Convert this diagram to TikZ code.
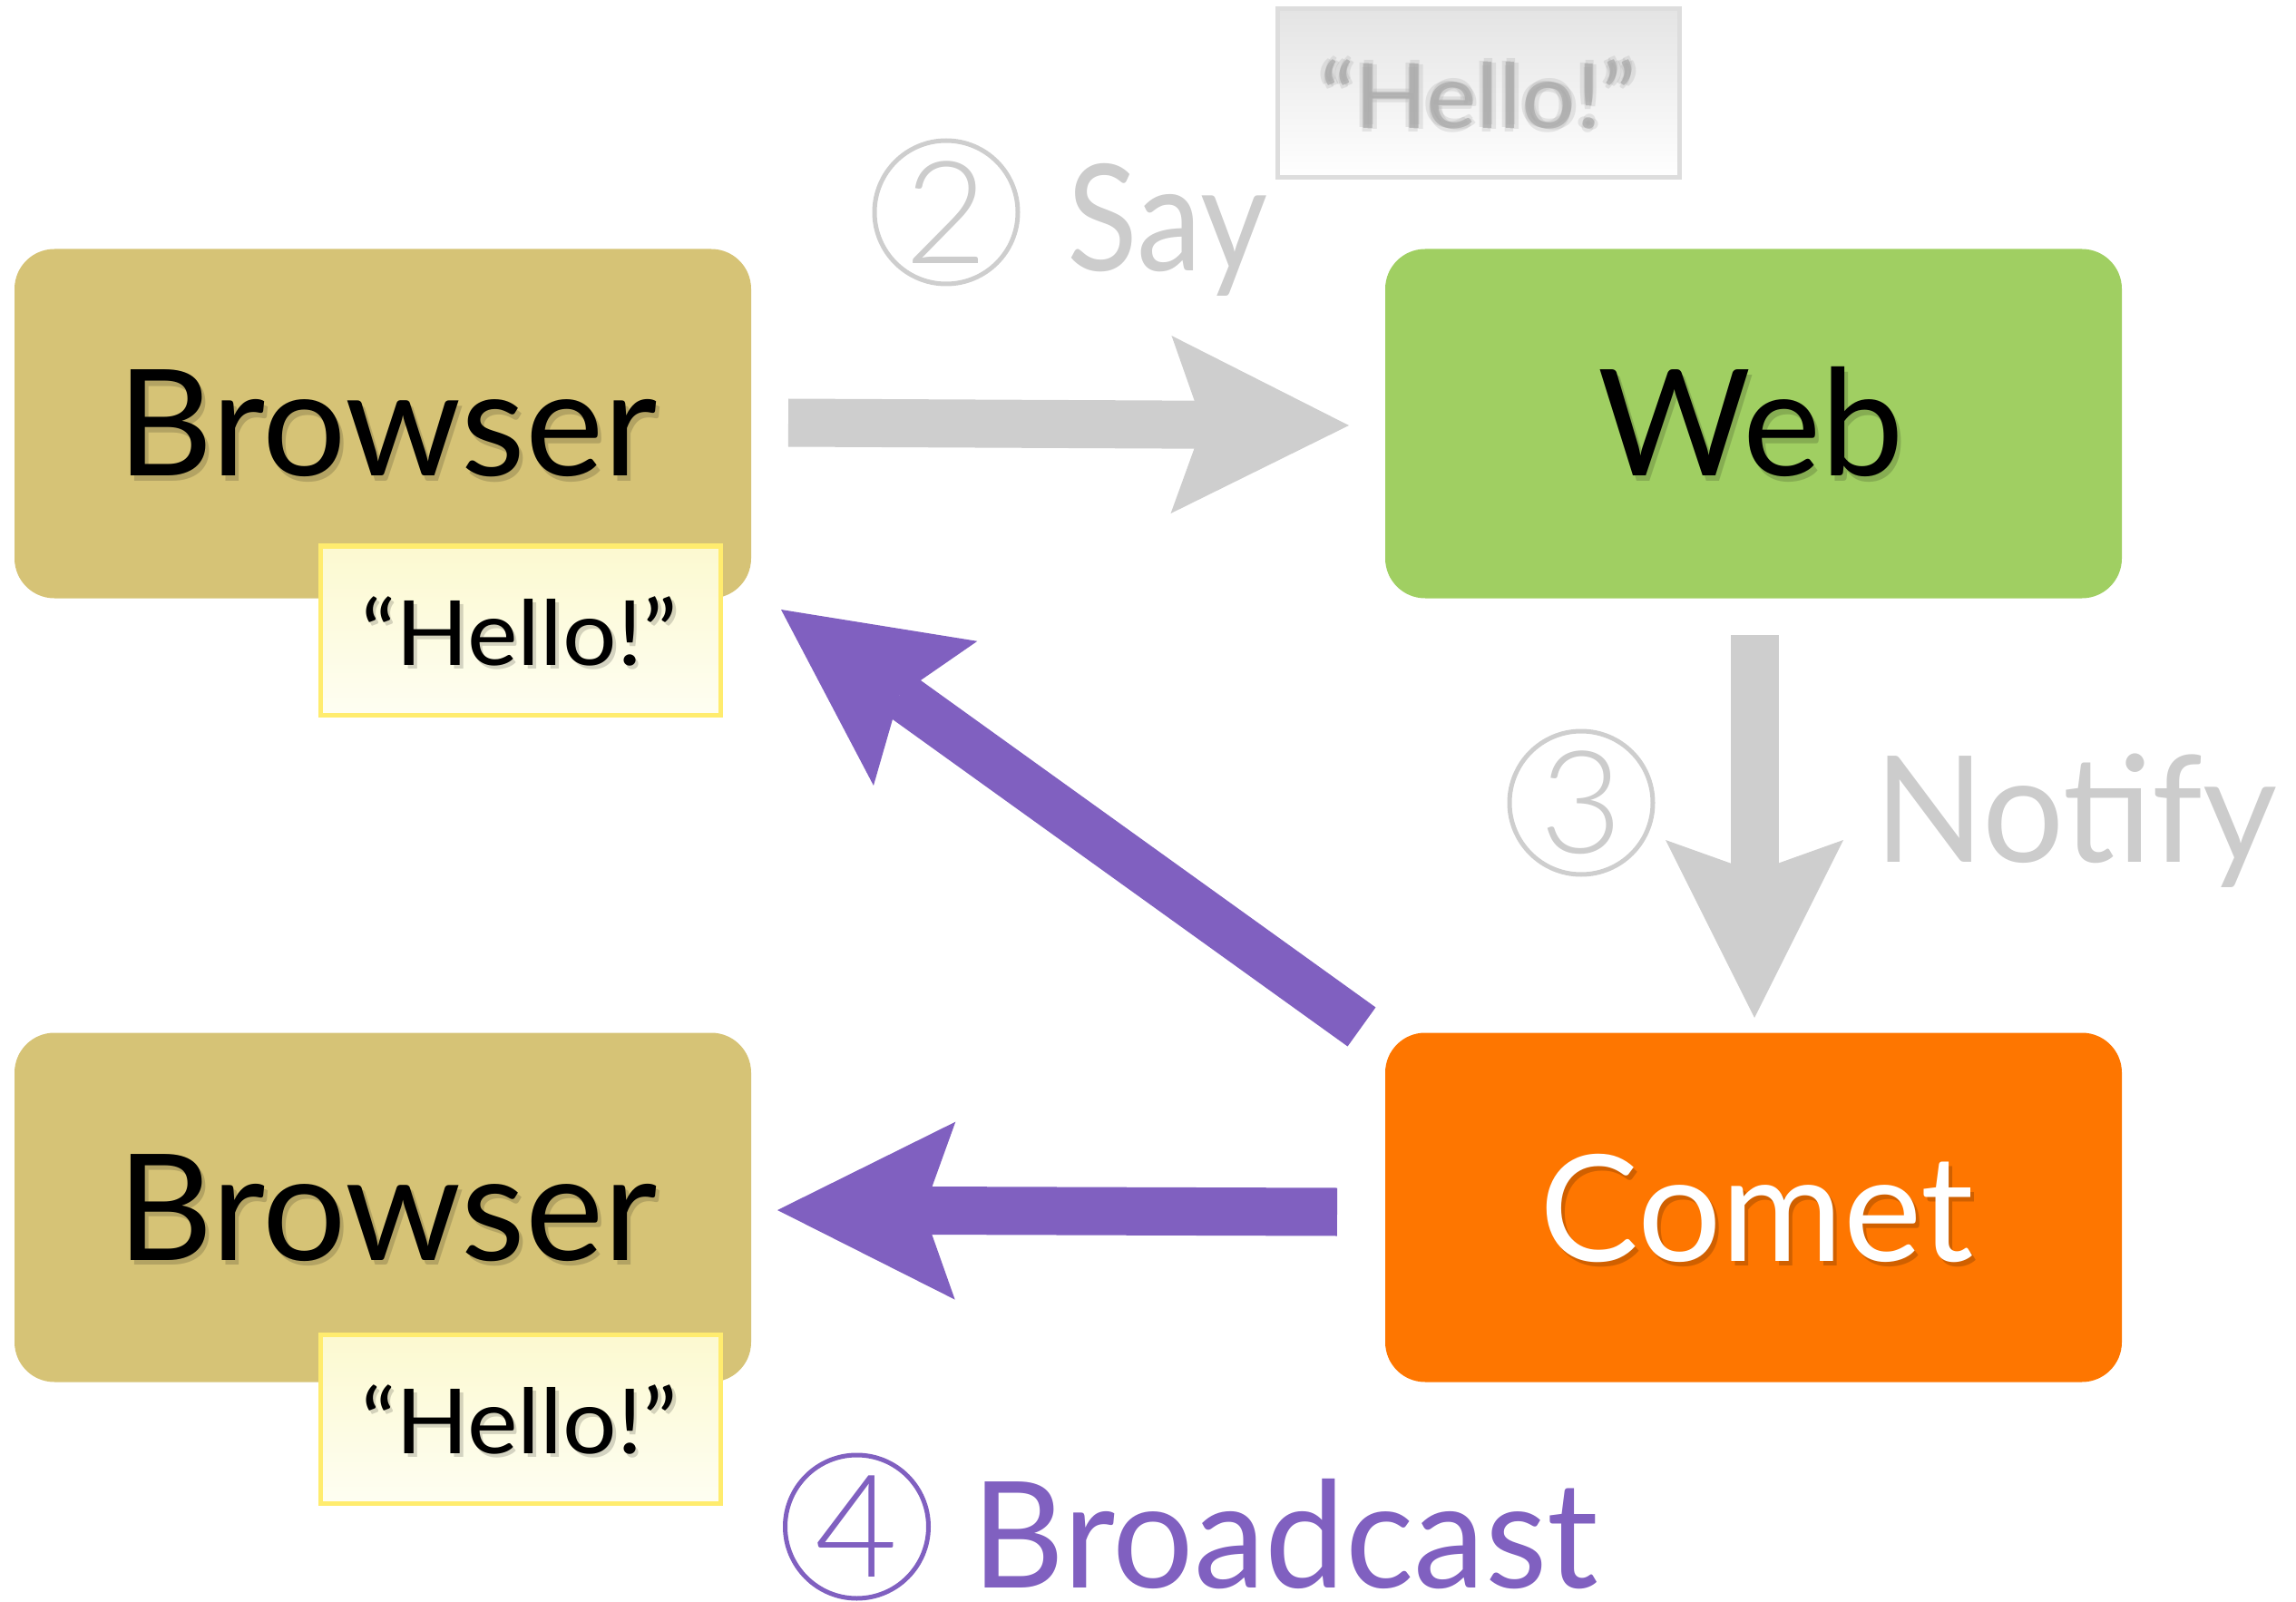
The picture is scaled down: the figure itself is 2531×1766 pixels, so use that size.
\documentclass[tikz,border=0pt]{standalone}
\usepackage{fontspec}
\setmainfont{Lato}
\IfFontExistsTF{Lato Light}{\newfontfamily\lightfont{Lato Light}}{\newfontfamily\lightfont{Lato}}
\usetikzlibrary{arrows.meta}
\definecolor{browserfill}{RGB}{214,195,118}
\definecolor{webfill}{RGB}{160,207,98}
\definecolor{cometfill}{RGB}{254,118,0}
\definecolor{hellotop}{RGB}{252,249,208}
\definecolor{hellobot}{RGB}{254,254,242}
\definecolor{helloline}{RGB}{255,236,110}
\definecolor{graytop}{RGB}{228,228,228}
\definecolor{graybot}{RGB}{255,255,255}
\definecolor{grayline}{RGB}{221,221,221}
\definecolor{arrowgray}{RGB}{206,206,206}
\definecolor{labelgray}{RGB}{204,204,204}
\definecolor{hellogray}{RGB}{168,168,168}
\definecolor{purp}{RGB}{128,96,192}
\newcommand{\hellotxt}{\scalebox{1.06}[1]{“Hello!”}}
\begin{document}
\begin{tikzpicture}[x=0.25pt,y=-0.25pt,
  box/.style={rounded corners=11pt, minimum width=203pt, minimum height=96.25pt, inner sep=0pt, draw=none},
  hellobox/.style={minimum width=110.25pt, minimum height=46.5pt, inner sep=0pt, draw=helloline, line width=1.25pt, top color=hellotop, bottom color=hellobot},
  graybox/.style={minimum width=110.75pt, minimum height=46.5pt, inner sep=0pt, draw=grayline, line width=1.25pt, top color=graytop, bottom color=graybot},
  big/.style={font=\fontsize{40.8pt}{48pt}\selectfont, anchor=base, inner sep=0pt},
  small/.style={font=\fontsize{24.8pt}{30pt}\selectfont, anchor=base, inner sep=0pt},
  shadowtxt/.style={text=black, opacity=0.16},
  blurtxt/.style={small, text=hellogray, opacity=0.25},
  stepcircle/.style={circle, draw, line width=1.25pt, minimum size=39.5pt, inner sep=0pt, font=\lightfont\fontsize{39.4pt}{44pt}\selectfont},
  fat/.style={line width=13.25pt, -{Stealth[length=49pt, width=49pt, inset=8.75pt, line width=0pt]}}
]
\useasboundingbox (0,0) rectangle (2531,1766);

% boxes
\node[box, fill=browserfill] (browserA) at (422,467) {};
\node[box, fill=webfill] (web) at (1933,467) {};
\node[box, fill=browserfill] (browserB) at (422,1331) {};
\node[box, fill=cometfill] (comet) at (1933,1331) {};

% box labels (with soft drop shadows)
\node[big, shadowtxt] (browserAsh) at (431,530) {Browser};
\node[big] (browserAlbl) at (427,525) {Browser};
\node[big, shadowtxt] (websh) at (1934,530) {Web};
\node[big] (weblbl) at (1930,525) {Web};
\node[big, shadowtxt] (browserBsh) at (431,1394) {Browser};
\node[big] (browserBlbl) at (427,1389) {Browser};
\node[big, text=black, opacity=0.18] (cometsh) at (1941,1395) {Comet};
\node[big, text=white] (cometlbl) at (1937,1390) {Comet};

% hello notes
\node[hellobox] (helloA) at (573.5,695) {};
\node[small, shadowtxt] (helloAsh) at (576,737) {\hellotxt};
\node[small] (helloAlbl) at (572.5,733) {\hellotxt};
\node[hellobox] (helloB) at (573.5,1564.5) {};
\node[small, shadowtxt] (helloBsh) at (576,1606) {\hellotxt};
\node[small] (helloBlbl) at (572.5,1602) {\hellotxt};

% gray (in transit) hello, blurred
\node[graybox] (helloT) at (1629.5,103) {};
\node[blurtxt] (hT1) at (1625,141) {\hellotxt};
\node[blurtxt] (hT2) at (1634,143) {\hellotxt};
\node[blurtxt] (hT3) at (1630.5,138) {\hellotxt};
\node[blurtxt] (hT4) at (1628.5,146) {\hellotxt};
\node[small, text=hellogray, opacity=0.7] (helloTlbl) at (1629.5,142) {\hellotxt};

% step labels
\node[stepcircle, draw=arrowgray, text=labelgray] (c2) at (1043,234) {2};
\node[big, text=labelgray] (say) at (1287,299) {\scalebox{0.88}[1]{Say}};
\node[stepcircle, draw=arrowgray, text=labelgray] (c3) at (1743,885) {3};
\node[big, text=labelgray] (notify) at (2288,950) {\scalebox{0.975}[1]{Notify}};
\node[stepcircle, draw=purp, text=purp] (c4) at (944.5,1683) {4};
\node[big, text=purp] (broadcast) at (1417,1750) {\scalebox{0.968}[1]{Broadcast}};

% arrows
\coordinate (sayS) at (869,466);
\coordinate (sayE) at (1487,469);
\coordinate (notS) at (1934,700);
\coordinate (notE) at (1934,1122);
\coordinate (diaS) at (1501,1132);
\coordinate (diaE) at (861,672);
\coordinate (horS) at (1474,1336);
\coordinate (horE) at (857,1334);
\draw[fat, arrowgray] (sayS) -- (sayE);
\draw[fat, arrowgray] (notS) -- (notE);
\draw[fat, purp] (diaS) -- (diaE);
\draw[fat, purp] (horS) -- (horE);
\end{tikzpicture}
\end{document}
